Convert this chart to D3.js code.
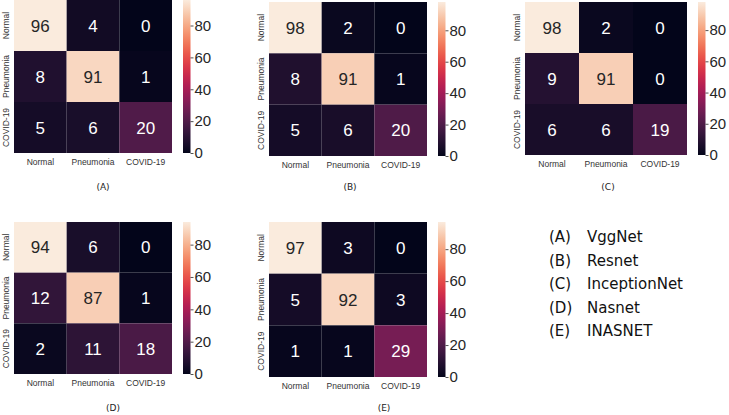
<!DOCTYPE html>
<html>
<head>
<meta charset="utf-8">
<script src="https://cdn.jsdelivr.net/npm/d3@7"></script>
<style>
  body { margin: 0; background: #fff; }
  svg { display: block; }
</style>
</head>
<body>
<div id="chart"></div>
<script>
var svgWidth = 729;
var svgHeight = 415;

// data
var classes = ["Normal", "Pneumonia", "COVID-19"];
var panelLabels = ["(A)", "(B)", "(C)", "(D)", "(E)"];
var modelNames = ["VggNet", "Resnet", "InceptionNet", "Nasnet", "INASNET"];
var vggnet = [[96, 4, 0], [8, 91, 1], [5, 6, 20]];
var resnet = [[98, 2, 0], [8, 91, 1], [5, 6, 20]];
var inceptionnet = [[98, 2, 0], [9, 91, 0], [6, 6, 19]];
var nasnet = [[94, 6, 0], [12, 87, 1], [2, 11, 18]];
var inasnet = [[97, 3, 0], [5, 92, 3], [1, 1, 29]];
var colorTicks = [0, 20, 40, 60, 80];

var matrices = [vggnet, resnet, inceptionnet, nasnet, inasnet];

// where each panel sits (heatmap box + caption)
var layout = [
  {x: 14,  y: 0,   w: 158, h: 153, cx: 103, cy: 190},
  {x: 269, y: 2,   w: 158, h: 154, cx: 350, cy: 190},
  {x: 525, y: 2,   w: 162, h: 153, cx: 608, cy: 190},
  {x: 14,  y: 222, w: 158, h: 152, cx: 113, cy: 411},
  {x: 269, y: 222, w: 158, h: 155, cx: 384, cy: 411}
];

// seaborn "rocket" colormap anchors
var rocketStops = ["#03051a", "#35193e", "#701f57", "#ad1759", "#e13342", "#f37651", "#f6b48f", "#faebdd"];
var rocket = d3.interpolateRgbBasis(rocketStops);

var svg = d3.select("#chart")
  .append("svg")
  .attr("width", svgWidth)
  .attr("height", svgHeight);

var defs = svg.append("defs");

matrices.forEach(function(mat, i) {
  var L = layout[i];
  var vmax = d3.max(mat.flat());
  var color = d3.scaleSequential(rocket).domain([0, vmax]);

  var g = svg.append("g").attr("transform", `translate(${L.x}, ${L.y})`);

  var xBand = d3.scaleBand().domain(classes).range([0, L.w]);
  var yBand = d3.scaleBand().domain(classes).range([0, L.h]);

  var cells = [];
  mat.forEach(function(row, r) {
    row.forEach(function(v, c) {
      cells.push({row: classes[r], col: classes[c], value: v});
    });
  });

  g.selectAll("rect.cell")
    .data(cells)
    .enter()
    .append("rect")
    .attr("class", "cell")
    .attr("x", d => xBand(d.col))
    .attr("y", d => yBand(d.row))
    .attr("width", xBand.bandwidth())
    .attr("height", yBand.bandwidth())
    .attr("fill", d => color(d.value));

  g.selectAll("text.annot")
    .data(cells)
    .enter()
    .append("text")
    .attr("class", "annot")
    .attr("x", d => xBand(d.col) + xBand.bandwidth() / 2)
    .attr("y", d => yBand(d.row) + yBand.bandwidth() / 2)
    .attr("dy", "0.36em")
    .attr("text-anchor", "middle")
    .style("font-family", "Liberation Sans, Arial, sans-serif")
    .style("font-size", "17px")
    .attr("fill", d => d3.lab(color(d.value)).l > 60 ? "#262626" : "#ffffff")
    .text(d => d.value);

  // column labels
  g.selectAll("text.collab")
    .data(classes)
    .enter()
    .append("text")
    .attr("class", "collab")
    .attr("x", d => xBand(d) + xBand.bandwidth() / 2)
    .attr("y", L.h + 12)
    .attr("text-anchor", "middle")
    .style("font-family", "Liberation Sans, Arial, sans-serif")
    .style("font-size", "8.5px")
    .attr("fill", "#333")
    .text(d => d);

  // row labels
  g.selectAll("text.rowlab")
    .data(classes)
    .enter()
    .append("text")
    .attr("class", "rowlab")
    .attr("transform", d => `translate(-5, ${yBand(d) + yBand.bandwidth() / 2}) rotate(-90)`)
    .attr("text-anchor", "middle")
    .style("font-family", "Liberation Sans, Arial, sans-serif")
    .style("font-size", "8.5px")
    .attr("fill", "#333")
    .text(d => d);

  // colorbar
  var cbX = L.w + 11;
  var cbW = 7.5;
  var gradId = "grad" + i;
  var grad = defs.append("linearGradient")
    .attr("id", gradId)
    .attr("x1", 0).attr("y1", 1).attr("x2", 0).attr("y2", 0);
  d3.range(0, 1.0001, 0.05).forEach(function(t) {
    grad.append("stop")
      .attr("offset", t)
      .attr("stop-color", rocket(t));
  });

  var cbScale = d3.scaleLinear().domain([0, vmax]).range([L.h, 0]);
  var cb = g.append("g").attr("transform", `translate(${cbX}, 0)`);
  cb.append("rect")
    .attr("width", cbW)
    .attr("height", L.h)
    .attr("fill", `url(#${gradId})`);

  var axis = cb.append("g")
    .attr("transform", `translate(${cbW}, 0)`)
    .call(d3.axisRight(cbScale).tickValues(colorTicks).tickSize(3).tickPadding(1));
  axis.select(".domain").remove();
  axis.selectAll("line").attr("stroke", "#262626").attr("stroke-width", 0.8);
  axis.selectAll("text")
    .style("font-family", "Liberation Sans, Arial, sans-serif")
    .style("font-size", "15px")
    .attr("fill", "#262626");

  // caption
  svg.append("text")
    .attr("x", L.cx)
    .attr("y", L.cy)
    .attr("text-anchor", "middle")
    .style("font-family", "DejaVu Sans, sans-serif")
    .style("font-size", "9px")
    .attr("fill", "#222")
    .text(panelLabels[i]);
});

// model legend
var legend = svg.append("g").attr("transform", "translate(549, 237)");
var legendY = d3.scalePoint().domain(modelNames).range([0, 94]);

legend.selectAll("text.code")
  .data(panelLabels)
  .enter()
  .append("text")
  .attr("class", "code")
  .attr("x", 0)
  .attr("y", (d, i) => legendY(modelNames[i]))
  .attr("dy", "0.36em")
  .style("font-family", "DejaVu Sans, sans-serif")
  .style("font-size", "15px")
  .attr("fill", "#111")
  .text(d => d);

legend.selectAll("text.name")
  .data(modelNames)
  .enter()
  .append("text")
  .attr("class", "name")
  .attr("x", 38)
  .attr("y", d => legendY(d))
  .attr("dy", "0.36em")
  .style("font-family", "DejaVu Sans, sans-serif")
  .style("font-size", "15px")
  .attr("fill", "#111")
  .text(d => d);
</script>
</body>
</html>
